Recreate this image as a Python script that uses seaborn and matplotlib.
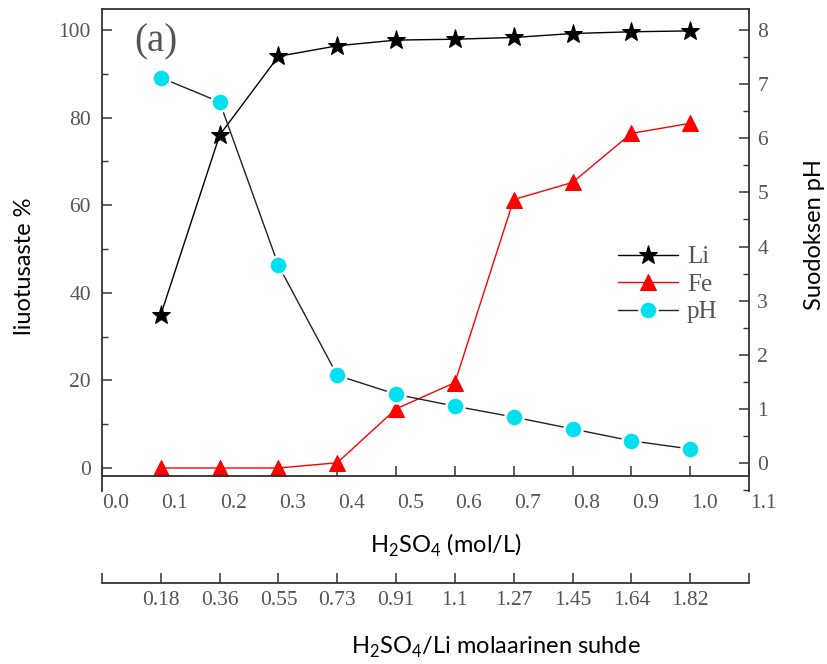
import numpy as np
import pandas as pd
import seaborn as sns
import matplotlib
matplotlib.use("Agg")
import matplotlib.pyplot as plt
from matplotlib.ticker import MultipleLocator, FixedLocator
from matplotlib.transforms import ScaledTranslation

# H2SO4 concentration (mol/L)
acid_conc = [0.1, 0.2, 0.3, 0.4, 0.5, 0.6, 0.7, 0.8, 0.9, 1.0]
# Leaching efficiency (%)
li_leach = [35.0, 76.0, 94.0, 96.4, 97.7, 97.9, 98.3, 99.2, 99.6, 99.8]
fe_leach = [0.0, 0.0, 0.0, 1.2, 13.5, 19.5, 61.3, 65.2, 76.4, 78.7]
# Filtrate pH
ph_vals = [7.12, 6.67, 3.65, 1.62, 1.27, 1.05, 0.85, 0.63, 0.41, 0.26]
# H2SO4/Li molar ratio labels
ratio_labels = ["0.18", "0.36", "0.55", "0.73", "0.91", "1.1", "1.27", "1.45", "1.64", "1.82"]

df = pd.DataFrame({"conc": acid_conc, "Li": li_leach, "Fe": fe_leach, "pH": ph_vals})

sns.set_theme(style="ticks")
plt.rcParams["font.family"] = ["Liberation Serif", "DejaVu Serif"]
plt.rcParams["mathtext.fontset"] = "custom"
plt.rcParams["mathtext.rm"] = "Lato"

W, H = 828, 664
fig = plt.figure(figsize=(W / 100, H / 100), dpi=100)

def px_box(x0, y0, x1, y1):
    return [x0 / W, 1 - y1 / H, (x1 - x0) / W, (y1 - y0) / H]

ax = fig.add_axes(px_box(102, 9, 749, 491))
ax2 = ax.twinx()

spine_col = "#333333"
tick_col = "#555555"
tick_fs = 15.5

sns.lineplot(data=df, x="conc", y="Li", ax=ax, color="black", lw=1.0,
             marker="*", markersize=14, markeredgecolor="black", label="Li", legend=False)
sns.lineplot(data=df, x="conc", y="Fe", ax=ax, color="red", lw=1.0,
             marker="^", markersize=11, markeredgecolor="red", label="Fe", legend=False)
sns.lineplot(data=df, x="conc", y="pH", ax=ax2, color="#222222", lw=1.0,
             marker="o", markersize=13, markerfacecolor="#00e0f0",
             markeredgecolor="white", markeredgewidth=1.8, label="pH", legend=False)

ax.set_xlim(0, 1.1)
ax.set_ylim(-5.25, 104.8)
ax2.set_ylim(-0.517, 8.388)

ax.set_xlabel("")
ax.set_ylabel("")
ax2.set_ylabel("")

ax.xaxis.set_major_locator(FixedLocator(np.round(np.arange(0, 1.11, 0.1), 1)))
ax.set_xticklabels([f"{v:.1f}" for v in np.arange(0, 1.11, 0.1)])
ax.yaxis.set_major_locator(MultipleLocator(20))
ax.yaxis.set_minor_locator(MultipleLocator(10))
ax2.yaxis.set_major_locator(MultipleLocator(1))
ax2.yaxis.set_minor_locator(MultipleLocator(0.5))

# Origin-style frame: x axis line raised above the bottom of the side spines
ax.spines["bottom"].set_position(("data", -1.83))
ax.spines["top"].set_visible(True)
ax.spines["right"].set_visible(False)
for s in ["left", "top", "bottom"]:
    ax.spines[s].set_color(spine_col)
    ax.spines[s].set_linewidth(1.3)
for s in ["left", "top", "bottom"]:
    ax2.spines[s].set_visible(False)
ax2.spines["right"].set_color(spine_col)
ax2.spines["right"].set_linewidth(1.3)

ax.tick_params(axis="x", which="major", direction="in", length=7, width=1.1,
               color=spine_col, labelsize=tick_fs, labelcolor=tick_col, pad=13)
ax.tick_params(axis="y", which="major", direction="in", length=7, width=1.1,
               color=spine_col, labelsize=tick_fs, labelcolor=tick_col, pad=8)
ax.tick_params(axis="y", which="minor", direction="in", length=4, width=1.0, color=spine_col)
ax2.tick_params(axis="y", which="major", direction="in", length=7, width=1.1,
                color=spine_col, labelsize=tick_fs, labelcolor=tick_col, pad=6)
ax2.tick_params(axis="y", which="minor", direction="in", length=4, width=1.0, color=spine_col)

# second scale: H2SO4/Li molar ratio
sec = ax.secondary_xaxis(-0.1909)
sec.set_xticks([0.0] + acid_conc + [1.1])
sec.set_xticklabels([""] + ratio_labels + [""])
sec.spines["bottom"].set_color(spine_col)
sec.spines["bottom"].set_linewidth(1.3)
sec.tick_params(axis="x", direction="in", length=7, width=1.1, color=spine_col,
                labelsize=tick_fs, labelcolor=tick_col, pad=6)

# legend
handles = ax.get_lines()[:2] + ax2.get_lines()[:1]
leg = ax2.legend(handles, ["Li", "Fe", "pH"], loc="upper left",
                 bbox_to_anchor=(618 / W, 1 - 246 / H), bbox_transform=fig.transFigure,
                 frameon=False, fontsize=18, handlelength=2.4, handletextpad=0.35,
                 labelspacing=0.2, borderpad=0, borderaxespad=0)
for t in leg.get_texts():
    t.set_color(tick_col)

# panel tag
fig.text(156 / W, 1 - 42 / H, "(a)", fontsize=28, color=tick_col,
         ha="center", va="center", family=["Liberation Serif"])

# axis titles
lab_font = dict(family=["Lato", "DejaVu Sans"], fontsize=17, color="black")
fig.text(446 / W, 1 - 545 / H, r"H$_\mathregular{2}$SO$_\mathregular{4}$ (mol/L)",
         ha="center", va="center", **lab_font)
fig.text(496 / W, 1 - 647 / H, r"H$_\mathregular{2}$SO$_\mathregular{4}$/Li molaarinen suhde",
         ha="center", va="center", **lab_font)
fig.text(25 / W, 1 - 266 / H, "liuotusaste %", rotation=90,
         ha="center", va="center", **lab_font)
fig.text(815 / W, 1 - 235 / H, "Suodoksen pH", rotation=90,
         ha="center", va="center", **lab_font)

# shift the concentration tick labels slightly right of their ticks
fig.canvas.draw()
shift = ScaledTranslation(0.14, 0, fig.dpi_scale_trans)
for lab in ax.get_xticklabels():
    lab.set_transform(lab.get_transform() + shift)

fig.savefig("out.png", dpi=100)
